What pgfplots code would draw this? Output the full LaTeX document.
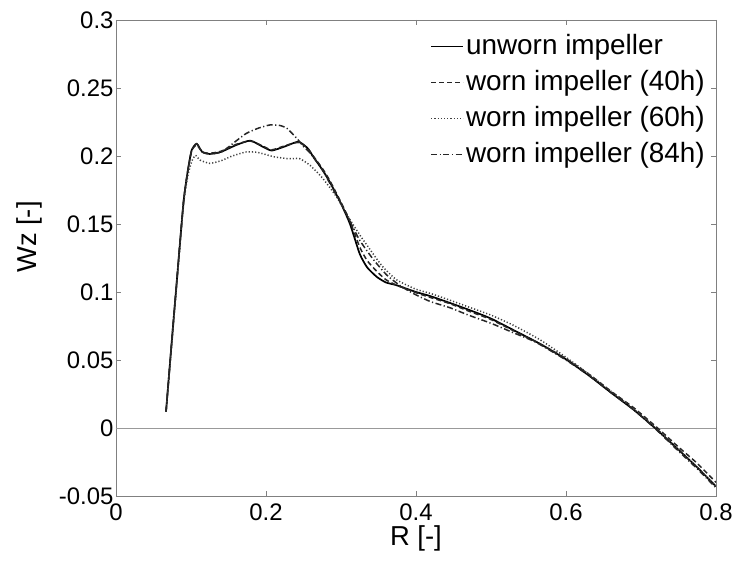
\documentclass[border=0pt]{standalone}
\usepackage{fontspec}
\setmainfont{Liberation Sans}
\usepackage{pgfplots}
\pgfplotsset{compat=1.18}
\begin{document}
\begin{tikzpicture}
\begin{axis}[
  scale only axis, width=600bp, height=476bp,
  at={(0,0)}, anchor=south west,
  xmin=0, xmax=0.8, ymin=-0.05, ymax=0.3,
  xtick={0,0.2,0.4,0.6,0.8},
  xticklabels={0,0.2,0.4,0.6,0.8},
  ytick={-0.05,0,0.05,0.1,0.15,0.2,0.25,0.3},
  yticklabels={-0.05,0,0.05,0.1,0.15,0.2,0.25,0.3},
  tick align=inside, major tick length=5bp,
  axis line style={draw=black!50, line width=0.9bp},
  every tick/.style={draw=black!50, line width=0.8bp},
  tick label style={font=\fontsize{24}{27}\selectfont},
  xticklabel style={yshift=-4bp},
  yticklabel style={xshift=1bp},
  label style={font=\fontsize{27.5}{30}\selectfont},
  xlabel={R [-]}, ylabel={Wz [-]},
  xlabel style={at={(axis description cs:0.5,0)}, anchor=north, yshift=-26bp},
  ylabel style={at={(axis description cs:0,0.544)}, anchor=south, yshift=70bp},
  legend style={at={(0.985,0.977)}, anchor=north east, draw=none, fill=none,
    font=\fontsize{28}{31}\selectfont, row sep=9bp, inner sep=2bp,
    nodes={inner xsep=0bp, inner ysep=0bp, text height=21bp, text depth=6bp},
    /tikz/every odd column/.append style={column sep=2bp}},
  legend cell align=left,
  legend image code/.code={\path (0bp,-10bp) (32bp,10bp); \draw[#1] (0bp,0bp) -- (32bp,0bp);},
]
\addplot[black!40, line width=0.9bp, forget plot] coordinates {(0,0) (0.8,0)};

% unworn impeller
\addplot[black, line width=1.7bp, smooth, tension=0.35] coordinates {
(0.0667,0.012)(0.075,0.068)(0.08,0.101)(0.09,0.166)(0.096,0.19)(0.101,0.2044)(0.1076,0.209)
(0.115,0.203)(0.125,0.2015)(0.14,0.203)(0.16,0.208)(0.179,0.2113)(0.195,0.207)(0.2076,0.204)
(0.225,0.207)(0.243,0.2105)(0.255,0.206)(0.263,0.1995)(0.275,0.19)(0.285,0.181)(0.30,0.165)
(0.312,0.150)(0.325,0.128)(0.335,0.118)(0.348,0.111)(0.36,0.107)(0.374,0.105)(0.40,0.100)
(0.419,0.097)(0.445,0.092)(0.47,0.087)(0.499,0.0807)(0.53,0.072)(0.565,0.062)(0.60,0.0505)
(0.632,0.038)(0.66,0.026)(0.69,0.0135)(0.7187,0.0)(0.75,-0.016)(0.775,-0.029)(0.80,-0.043)};
\addlegendentry{unworn impeller}

% worn 40h
\addplot[black!85, line width=1.5bp, dash pattern=on 5bp off 3bp, smooth, tension=0.35] coordinates {
(0.0667,0.012)(0.075,0.068)(0.08,0.101)(0.09,0.166)(0.096,0.19)(0.101,0.204)(0.1076,0.208)
(0.115,0.203)(0.125,0.202)(0.14,0.2035)(0.16,0.2085)(0.179,0.211)(0.195,0.2075)(0.2076,0.2045)
(0.225,0.2075)(0.243,0.210)(0.255,0.206)(0.263,0.2)(0.275,0.191)(0.285,0.182)(0.30,0.166)
(0.312,0.152)(0.325,0.133)(0.335,0.123)(0.348,0.115)(0.36,0.109)(0.374,0.105)(0.40,0.0995)
(0.419,0.096)(0.445,0.0915)(0.47,0.086)(0.499,0.080)(0.53,0.0715)(0.565,0.062)(0.60,0.051)
(0.632,0.039)(0.66,0.027)(0.69,0.015)(0.72,0.001)(0.75,-0.014)(0.775,-0.026)(0.80,-0.040)};
\addlegendentry{worn impeller (40h)}

% worn 60h
\addplot[black!75, line width=1.5bp, dash pattern=on 1.2bp off 2bp, smooth, tension=0.35] coordinates {
(0.0667,0.012)(0.075,0.066)(0.08,0.099)(0.09,0.164)(0.096,0.186)(0.101,0.196)(0.106,0.2005)
(0.112,0.197)(0.125,0.1946)(0.14,0.1965)(0.155,0.200)(0.174,0.203)(0.19,0.2025)(0.21,0.1995)
(0.23,0.198)(0.245,0.198)(0.259,0.193)(0.275,0.184)(0.294,0.170)(0.31,0.155)(0.325,0.142)
(0.339,0.131)(0.355,0.119)(0.374,0.109)(0.40,0.102)(0.419,0.099)(0.445,0.094)(0.47,0.089)
(0.50,0.083)(0.53,0.0755)(0.565,0.065)(0.60,0.052)(0.632,0.039)(0.66,0.027)(0.69,0.014)
(0.72,0.0)(0.75,-0.016)(0.775,-0.029)(0.80,-0.043)};
\addlegendentry{worn impeller (60h)}

% worn 84h
\addplot[black!85, line width=1.5bp, dash pattern=on 6bp off 2.5bp on 1.2bp off 2.5bp, smooth, tension=0.35] coordinates {
(0.0667,0.012)(0.075,0.068)(0.08,0.101)(0.09,0.166)(0.096,0.19)(0.101,0.2044)(0.1076,0.209)
(0.115,0.203)(0.125,0.2015)(0.141,0.203)(0.16,0.211)(0.174,0.2167)(0.19,0.2205)(0.205,0.2228)
(0.218,0.2225)(0.228,0.2203)(0.241,0.213)(0.25,0.207)(0.259,0.202)(0.275,0.19)(0.285,0.18)
(0.30,0.165)(0.312,0.152)(0.325,0.138)(0.343,0.124)(0.361,0.1125)(0.378,0.105)(0.396,0.099)
(0.419,0.093)(0.445,0.0885)(0.47,0.083)(0.50,0.077)(0.53,0.070)(0.56,0.063)(0.60,0.050)
(0.632,0.038)(0.66,0.026)(0.69,0.0135)(0.72,-0.001)(0.75,-0.017)(0.775,-0.030)(0.80,-0.044)};
\addlegendentry{worn impeller (84h)}
\end{axis}
\pgfresetboundingbox
\path (-116bp,-66bp) rectangle (623bp,496bp);
\end{tikzpicture}
\end{document}
